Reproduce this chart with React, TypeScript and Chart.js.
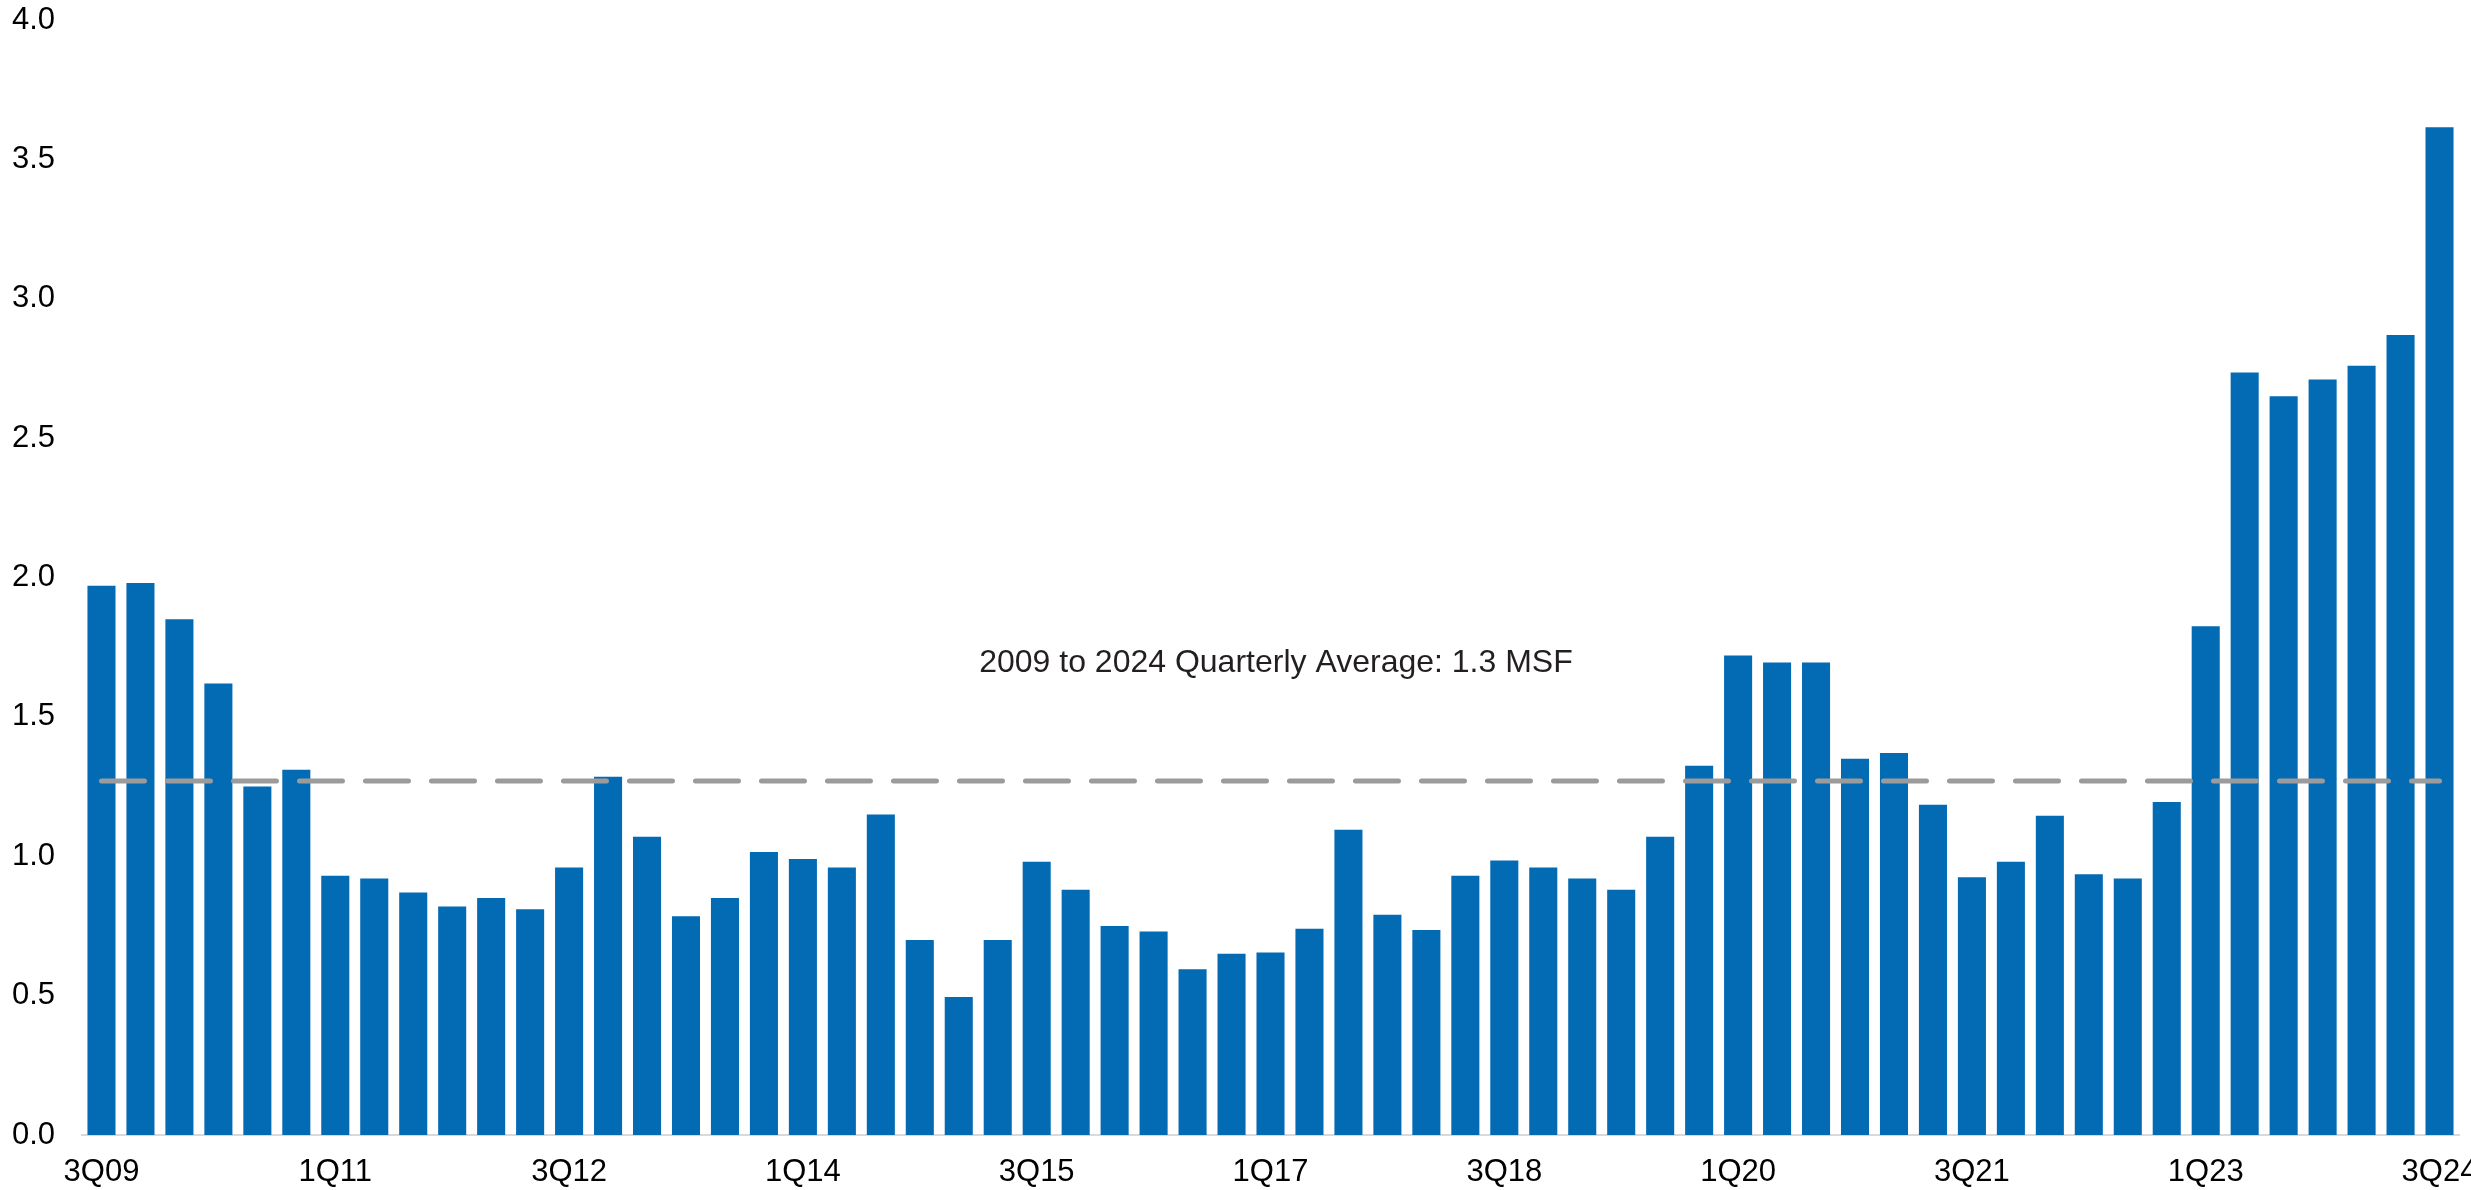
import React, { useEffect, useRef } from 'react';
import { Chart, registerables } from 'chart.js';

Chart.register(...registerables);

const quarters = [
  '3Q09', '4Q09',
  '1Q10', '2Q10', '3Q10', '4Q10',
  '1Q11', '2Q11', '3Q11', '4Q11',
  '1Q12', '2Q12', '3Q12', '4Q12',
  '1Q13', '2Q13', '3Q13', '4Q13',
  '1Q14', '2Q14', '3Q14', '4Q14',
  '1Q15', '2Q15', '3Q15', '4Q15',
  '1Q16', '2Q16', '3Q16', '4Q16',
  '1Q17', '2Q17', '3Q17', '4Q17',
  '1Q18', '2Q18', '3Q18', '4Q18',
  '1Q19', '2Q19', '3Q19', '4Q19',
  '1Q20', '2Q20', '3Q20', '4Q20',
  '1Q21', '2Q21', '3Q21', '4Q21',
  '1Q22', '2Q22', '3Q22', '4Q22',
  '1Q23', '2Q23', '3Q23', '4Q23',
  '1Q24', '2Q24', '3Q24',
];

// Quarterly values (MSF)
const absorption = [
  1.97, 1.98,
  1.85, 1.62, 1.25, 1.31,
  0.93, 0.92, 0.87, 0.82,
  0.85, 0.81, 0.96, 1.285,
  1.07, 0.785, 0.85, 1.015,
  0.99, 0.96, 1.15, 0.70,
  0.495, 0.70, 0.98, 0.88,
  0.75, 0.73, 0.595, 0.65,
  0.655, 0.74, 1.095, 0.79,
  0.735, 0.93, 0.985, 0.96,
  0.92, 0.88, 1.07, 1.325,
  1.72, 1.695, 1.695, 1.35,
  1.37, 1.185, 0.925, 0.98,
  1.145, 0.935, 0.92, 1.195,
  1.825, 2.735, 2.65, 2.71,
  2.76, 2.87, 3.615,
];

const AVERAGE = 1.27;
const AVERAGE_LABEL = '2009 to 2024 Quarterly Average: 1.3 MSF';
const yTicks = ['0.0', '0.5', '1.0', '1.5', '2.0', '2.5', '3.0', '3.5', '4.0'];
const LABEL_EVERY = 6;

const FONT = '"Liberation Sans", Arial, sans-serif';

const annotationPlugin = {
  id: 'avgLabel',
  afterDatasetsDraw(chart: any) {
    const { ctx, scales } = chart;
    const x = scales.x.getPixelForValue(30.14);
    const y = scales.y.getPixelForValue(1.693);
    ctx.save();
    ctx.font = `32px ${FONT}`;
    ctx.fillStyle = '#231f20';
    ctx.textAlign = 'center';
    ctx.textBaseline = 'middle';
    ctx.fillText(AVERAGE_LABEL, x, y);
    ctx.restore();
  },
};

export default function App() {
  const canvasRef = useRef<HTMLCanvasElement | null>(null);

  useEffect(() => {
    const canvas = canvasRef.current;
    if (!canvas) return;
    const chart = new Chart(canvas, {
      type: 'bar',
      data: {
        labels: quarters,
        datasets: [
          {
            type: 'line',
            label: 'Average',
            data: quarters.map(() => AVERAGE),
            borderColor: '#9b9b9b',
            borderWidth: 5,
            borderDash: [43, 23],
            borderCapStyle: 'round',
            pointRadius: 0,
            fill: false,
            order: 0,
          } as any,
          {
            type: 'bar',
            label: 'Absorption',
            data: absorption,
            backgroundColor: '#036ab4',
            borderWidth: 0,
            barPercentage: 0.72,
            categoryPercentage: 1,
            order: 1,
          },
        ],
      },
      options: {
        responsive: false,
        animation: false,
        layout: { padding: { top: 20, left: 0, right: 12, bottom: 0 } },
        plugins: {
          legend: { display: false },
          tooltip: { enabled: false },
        },
        scales: {
          x: {
            offset: true,
            grid: { display: false, drawTicks: false },
            border: { display: true, color: '#d9d9d9', width: 2 },
            ticks: {
              autoSkip: false,
              maxRotation: 0,
              minRotation: 0,
              padding: 19,
              color: '#000000',
              font: { family: FONT, size: 31 },
              callback: (_v: any, i: number) => (i % LABEL_EVERY === 0 ? quarters[i] : ''),
            },
            afterFit: (s: any) => {
              s.height = 55;
              s.paddingLeft = 0;
              s.paddingRight = 0;
            },
          },
          y: {
            min: 0,
            max: 4,
            grid: { display: false, drawTicks: false },
            border: { display: false },
            ticks: {
              stepSize: 0.5,
              padding: 27,
              color: '#000000',
              font: { family: FONT, size: 31 },
              callback: (_v: any, i: number) => yTicks[i],
            },
            afterFit: (s: any) => {
              s.width = 82;
              s.paddingTop = 0;
              s.paddingBottom = 0;
            },
          },
        },
      },
      plugins: [annotationPlugin],
    });
    return () => chart.destroy();
  }, []);

  return (
    <div style={{ position: 'absolute', left: 0, top: 0, width: 2471, height: 1190, background: '#ffffff' }}>
      <canvas ref={canvasRef} width={2471} height={1190} style={{ display: 'block', width: 2471, height: 1190 }} />
    </div>
  );
}
